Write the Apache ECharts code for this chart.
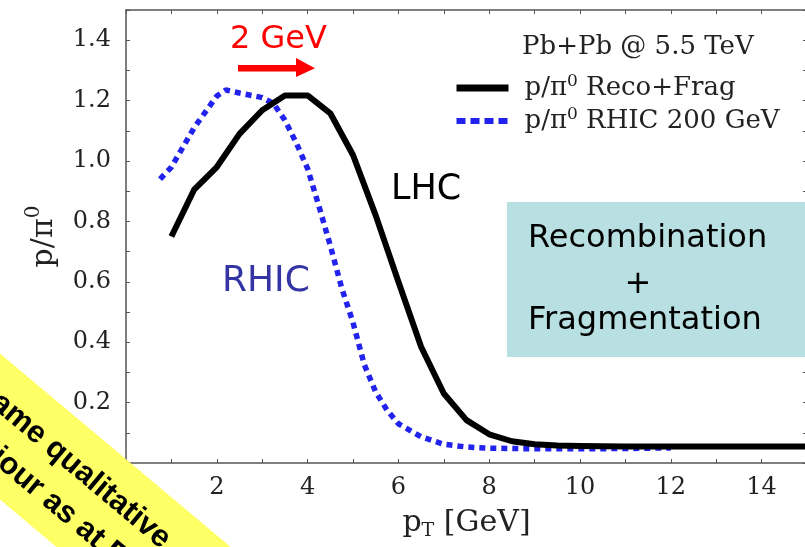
<!DOCTYPE html>
<html><head><meta charset="utf-8">
<script src="https://cdn.jsdelivr.net/npm/echarts@6/dist/echarts.min.js"></script>
<style>html,body{margin:0;padding:0;background:#fff}#c{width:805px;height:547px}</style>
</head><body><div id="c"></div>
<script>
// LHC: p/pi0 Reco+Frag (Pb+Pb @ 5.5 TeV)
const lhcX = [1.0,1.5,2.0,2.5,3.0,3.5,4.0,4.5,5.0,5.5,6.0,6.5,7.0,7.5,8.0,8.5,9.0,9.5,10,11,12,13,14,15];
const lhcY = [0.75,0.905,0.98,1.09,1.168,1.217,1.217,1.158,1.02,0.82,0.60,0.385,0.23,0.142,0.095,0.072,0.062,0.058,0.056,0.055,0.055,0.055,0.055,0.055];
// RHIC 200 GeV
const rhicX = [0.75,1.0,1.5,2.0,2.2,2.5,3.0,3.25,3.5,3.75,4.0,4.25,4.5,4.75,5.0,5.25,5.5,5.75,6.0,6.5,7.0,7.5,8.0,9,10,11,12];
const rhicY = [0.94,0.98,1.11,1.215,1.235,1.225,1.21,1.19,1.135,1.06,0.975,0.85,0.72,0.58,0.465,0.325,0.235,0.175,0.13,0.087,0.062,0.053,0.049,0.047,0.047,0.048,0.05];
// axis ticks
const xTicks = {min:0, max:15, interval:2};
const yTicks = {min:0, max:1.5, interval:0.2};

const serif = 'DejaVu Serif';
const sans = 'DejaVu Sans';
const axisCol = '#555';
const zip = (xs, ys) => xs.map((x, i) => [x, ys[i]]);

const commonAxis = {
  axisLine: {show: true, onZero: false, lineStyle: {color: axisCol, width: 1.5}},
  axisTick: {show: true, inside: true, length: 4, lineStyle: {color: axisCol, width: 1}},
  minorTick: {show: true, splitNumber: 2, length: 4, lineStyle: {color: axisCol, width: 1}},
  splitLine: {show: false}
};

const chart = echarts.init(document.getElementById('c'));
const option = {
  animation: false,
  backgroundColor: '#fff',
  grid: {left: 126, right: -2, top: 10, bottom: 84, outerBoundsMode: 'none'},
  legend: {
    orient: 'vertical', left: 448, top: 68, itemWidth: 52, itemHeight: 14, itemGap: 5,
    itemStyle: {opacity: 0},
    data: [
      {name: 'Reco+Frag', lineStyle: {width: 7}},
      {name: 'RHIC 200 GeV', lineStyle: {width: 6, type: [9, 5]}}
    ],
    formatter: n => '{a|p/π}{s|0}{a| ' + n + '}',
    textStyle: {
      padding: [0, 0, 0, 11],
      rich: {
        a: {fontFamily: serif, fontSize: 26, color: '#222', lineHeight: 30},
        s: {fontFamily: serif, fontSize: 17, color: '#222', lineHeight: 30, verticalAlign: 'top'}
      }
    }
  },
  xAxis: [
    Object.assign({}, commonAxis, {
      type: 'value', min: xTicks.min, max: xTicks.max, interval: xTicks.interval,
      name: '{a|p}{b|T}{a| [GeV]}', nameLocation: 'middle', nameGap: 42,
      nameTextStyle: {rich: {
        a: {fontFamily: serif, fontSize: 30, color: '#222', lineHeight: 36},
        b: {fontFamily: serif, fontSize: 19, color: '#222', lineHeight: 36, verticalAlign: 'bottom'}
      }},
      axisLabel: {fontFamily: serif, fontSize: 24, color: '#222', margin: 13,
        formatter: v => (v === 0 || v === 15) ? '' : String(v)}
    }),
    Object.assign({}, commonAxis, {
      type: 'value', position: 'top', min: xTicks.min, max: xTicks.max, interval: xTicks.interval,
      axisLabel: {show: false}
    })
  ],
  yAxis: [
    Object.assign({}, commonAxis, {
      type: 'value', min: yTicks.min, max: yTicks.max, interval: yTicks.interval,
      name: '{a|p/π}{s|0}', nameLocation: 'middle', nameRotate: 90, nameGap: 62,
      nameTextStyle: {rich: {
        a: {fontFamily: serif, fontSize: 30, color: '#222', lineHeight: 40},
        s: {fontFamily: serif, fontSize: 20, color: '#222', lineHeight: 40, verticalAlign: 'top'}
      }},
      axisLabel: {fontFamily: serif, fontSize: 24, color: '#222', margin: 15,
        formatter: v => (v < 0.05 || v > 1.45) ? '' : v.toFixed(1)}
    }),
    Object.assign({}, commonAxis, {
      type: 'value', position: 'right', min: yTicks.min, max: yTicks.max, interval: yTicks.interval,
      axisLabel: {show: false}
    })
  ],
  series: [
    {name: 'RHIC 200 GeV', type: 'line', data: zip(rhicX, rhicY), symbol: 'none', z: 2,
      itemStyle: {color: '#2222ee'},
      lineStyle: {color: '#2222ee', width: 5.5, type: [6, 5], cap: 'butt'}},
    {name: 'Reco+Frag', type: 'line', data: zip(lhcX, lhcY), symbol: 'none', z: 3,
      itemStyle: {color: '#000'},
      lineStyle: {color: '#000', width: 6, join: 'round'}}
  ],
  graphic: [
    {type: 'text', left: 522, top: 34, style: {text: 'Pb+Pb @ 5.5 TeV', fontFamily: serif, fontSize: 26, fill: '#222'}},
    {type: 'text', x: 230, y: 40, style: {text: '2 GeV', fontFamily: sans, fontSize: 32, fill: '#ff0000', verticalAlign: 'middle'}},
    {type: 'rect', shape: {x: 238, y: 65, width: 60, height: 6.5}, style: {fill: '#ff0000'}},
    {type: 'polygon', shape: {points: [[296, 58], [315, 68.3], [296, 77]]}, style: {fill: '#ff0000'}},
    {type: 'text', x: 391, y: 190, style: {text: 'LHC', fontFamily: sans, fontSize: 35, fill: '#000', verticalAlign: 'middle'}},
    {type: 'text', x: 222, y: 282, style: {text: 'RHIC', fontFamily: sans, fontSize: 36, fill: '#3434a4', verticalAlign: 'middle'}},
    {type: 'rect', shape: {x: 507, y: 202, width: 310, height: 155}, style: {fill: '#b8dfe1'}, z: 10},
    {type: 'text', x: 528, y: 239, z: 11, style: {text: 'Recombination', fontFamily: sans, fontSize: 32, fill: '#000', verticalAlign: 'middle'}},
    {type: 'text', x: 638, y: 285, z: 11, style: {text: '+', fontFamily: sans, fontSize: 32, fill: '#000', align: 'center', verticalAlign: 'middle'}},
    {type: 'text', x: 528, y: 321, z: 11, style: {text: 'Fragmentation', fontFamily: sans, fontSize: 32, fill: '#000', verticalAlign: 'middle'}},
    {type: 'group', x: 0, y: 426.5, rotation: -40 * Math.PI / 180, z: 100, children: [
      {type: 'rect', shape: {x: -250, y: -56, width: 700, height: 112}, style: {fill: '#ffff66'}, z: 100},
      {type: 'text', x: 80, y: -18, z: 101, style: {text: 'Same qualitative', fontFamily: 'Liberation Sans', fontWeight: 'bold', fontSize: 31, fill: '#000', align: 'center', verticalAlign: 'middle'}},
      {type: 'text', x: 80, y: 24, z: 101, style: {text: 'behaviour as at RHIC', fontFamily: 'Liberation Sans', fontWeight: 'bold', fontSize: 31, fill: '#000', align: 'center', verticalAlign: 'middle'}}
    ]}
  ]
};
chart.setOption(option);
</script></body></html>
